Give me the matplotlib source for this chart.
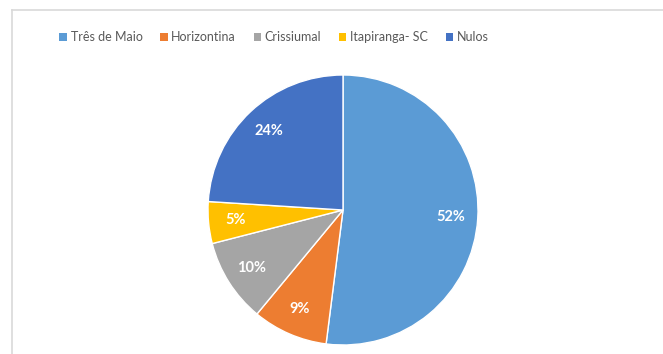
import matplotlib
matplotlib.use("Agg")
import matplotlib.pyplot as plt
from matplotlib.patches import Patch
from matplotlib.lines import Line2D

# vote share per city (percent)
cidades = ["Três de Maio", "Horizontina", "Crissiumal", "Itapiranga- SC", "Nulos"]
valores = [52, 9, 10, 5, 24]
cores = ["#5B9BD5", "#ED7D31", "#A5A5A5", "#FFC000", "#4472C4"]

plt.rcParams['font.family'] = ['Lato', 'DejaVu Sans']

W, H = 663, 354
fig = plt.figure(figsize=(W / 100, H / 100), dpi=100)

# light frame on the left and top edges of the chart area
fig.add_artist(Line2D([11.5 / W, 11.5 / W], [0, 1 - 9.5 / H], color="#D9D9D9", lw=1.2))
fig.add_artist(Line2D([11.5 / W, 1], [1 - 9.5 / H, 1 - 9.5 / H], color="#D9D9D9", lw=1.2))

cx, cy, r = 343, 354 - 210, 135
ax = fig.add_axes([(cx - r) / W, (cy - r) / H, 2 * r / W, 2 * r / H])
wedges, texts, autotexts = ax.pie(
    valores, colors=cores, startangle=90, counterclock=False,
    autopct="%1.0f%%", pctdistance=0.8,
    wedgeprops=dict(edgecolor="white", linewidth=1.0),
    textprops=dict(color="white", fontsize=10.5, fontweight="bold"),
)
ax.set_xlim(-1, 1)
ax.set_ylim(-1, 1)
ax.set_aspect("equal")

handles = [Patch(facecolor=c, edgecolor="none") for c in cores]
fig.legend(handles, cidades, loc="center", bbox_to_anchor=(274 / W, 1 - 37 / H),
           ncol=5, frameon=False, fontsize=9, labelcolor="#595959",
           handlelength=0.6, handleheight=0.6, handletextpad=0.3,
           columnspacing=1.4)

fig.savefig("out.png", dpi=100)
